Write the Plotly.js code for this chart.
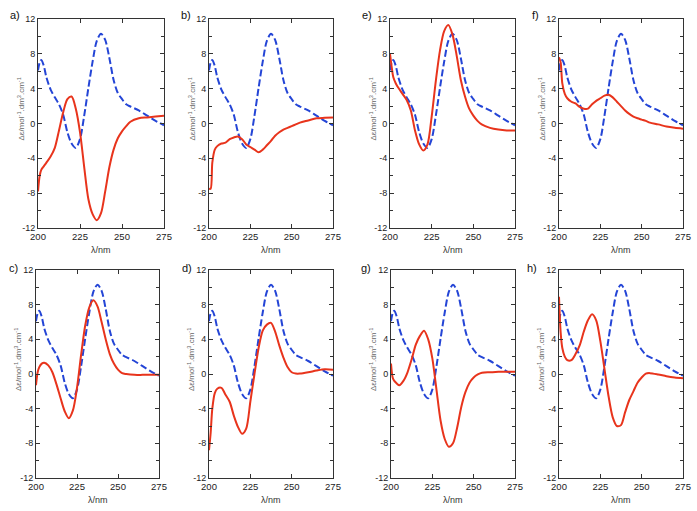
<!DOCTYPE html>
<html>
<head>
<meta charset="utf-8">
<script src="https://cdn.plot.ly/plotly-3.0.1.min.js"></script>
<style>html,body{margin:0;padding:0;background:#fff;}#chart{width:697px;height:511px;}</style>
</head>
<body>
<div id="chart"></div>
<script>
// Wavelength grid (nm)
const lam = [200,201,202,203.5,205,207.5,210,212.5,215,217.5,220,222.5,225,227.5,230,232.5,235,237.5,240,242.5,245,247.5,250,252.5,255,260,265,270,275];
// Reference (blue dashed) spectrum, identical in every panel
const refCurve = [6.1,7.0,7.3,6.6,5.3,3.9,3.0,2.2,1.0,-1.0,-2.3,-2.8,-1.8,0.9,4.1,7.1,9.5,10.3,9.6,7.5,5.0,3.5,2.8,2.2,1.95,1.5,0.9,0.3,-0.2];
// Sample (red) spectra
const redA = [-7.8,-6.0,-5.3,-4.9,-4.5,-3.8,-2.8,-0.8,1.3,2.8,3.1,1.7,-1.0,-5.0,-8.7,-10.4,-11.1,-10.3,-7.8,-5.0,-3.0,-1.7,-0.9,-0.3,0.2,0.6,0.7,0.8,0.9];
const redB = [-7.5,-7.5,-4.5,-3.0,-2.6,-2.3,-2.2,-1.8,-1.6,-1.5,-1.8,-2.4,-2.7,-3.0,-3.3,-3.0,-2.5,-2.0,-1.4,-1.0,-0.7,-0.5,-0.3,-0.1,0.1,0.35,0.6,0.65,0.7];
const redC = [-1.3,0.2,0.8,1.2,1.3,1.0,0.2,-1.2,-2.8,-4.3,-5.1,-4.2,-1.6,2.2,5.6,7.7,8.5,7.8,6.0,4.0,2.3,1.2,0.5,0.1,0.0,-0.1,-0.1,-0.1,-0.1];
const redD = [-8.8,-6.8,-4.0,-2.2,-1.7,-1.6,-2.4,-3.2,-4.8,-6.1,-6.9,-6.3,-3.2,0.0,3.0,5.0,5.7,5.9,4.9,3.3,1.9,0.8,0.2,0.05,0.05,0.2,0.4,0.55,0.5];
const redE = [8.0,6.5,5.3,4.6,4.1,3.4,2.7,1.5,-0.8,-2.4,-3.1,-2.4,0.8,4.9,8.4,10.6,11.3,10.2,7.8,5.0,3.1,1.7,0.9,0.3,-0.1,-0.5,-0.7,-0.8,-0.8];
const redF = [7.6,7.0,4.6,3.4,2.9,2.5,2.3,1.9,1.7,1.7,2.2,2.6,2.9,3.2,3.3,3.0,2.5,2.0,1.5,1.1,0.8,0.6,0.45,0.3,0.1,-0.1,-0.35,-0.5,-0.6];
const redG = [1.2,-0.4,-0.8,-1.1,-1.3,-0.8,0.2,1.7,3.4,4.4,5.0,4.0,1.8,-1.8,-5.4,-7.5,-8.4,-8.0,-6.2,-3.8,-2.1,-1.0,-0.4,-0.05,0.15,0.2,0.25,0.25,0.25];
const redH = [8.9,4.8,3.0,2.0,1.6,1.6,2.3,3.3,4.9,6.2,6.9,6.2,3.8,0.6,-2.6,-5.0,-6.0,-5.9,-4.4,-3.0,-2.0,-1.0,-0.4,0.05,0.1,-0.05,-0.25,-0.4,-0.5];
// Ticks and labels
const xTicks = [200,225,250,275];
const xTickText = ['200','225','250','275'];
const yTicks = [-12,-8,-4,0,4,8,12];
const yTickText = ['-12','-8','-4','0','4','8','12'];
const panelLabels = ['a)','b)','e)','f)','c)','d)','g)','h)'];
const redSeries = [redA,redB,redE,redF,redC,redD,redG,redH];
const xTitle = 'λ/nm';
const yTitle = 'Δε/mol<sup>-1</sup>.dm<sup>3</sup>.cm<sup>-1</sup>';

const W = 697, H = 511;
// plot boxes in pixels: [left, right, top, bottom]
const boxes = [
  [38,164,19,228],[209,333,19,228],[390,515,19,228],[559,683,19,228],
  [36,159,270,478],[209,333,270,478],[391,515,270,478],[559,683,270,478]
];
const labelPos = [[15,15],[186,15],[367,15],[535,15],[14,268],[187,268],[366,268],[532,268]];

const traces = [];
const layout = {
  width: W, height: H, autosize: false,
  margin: {l:0,r:0,t:0,b:0},
  paper_bgcolor: '#fff', plot_bgcolor: '#fff',
  showlegend: false,
  font: {family: 'Liberation Sans, Arial, sans-serif', size: 10, color: '#222'},
  annotations: []
};
const fx = p => p / W;
const fy = p => 1 - p / H;

boxes.forEach((b, i) => {
  const n = i + 1;
  const xa = 'x' + (n === 1 ? '' : n), ya = 'y' + (n === 1 ? '' : n);
  const xk = 'xaxis' + (n === 1 ? '' : n), yk = 'yaxis' + (n === 1 ? '' : n);
  traces.push({x: lam, y: refCurve, xaxis: xa, yaxis: ya, type: 'scatter', mode: 'lines',
    line: {color: '#2445d6', width: 2, dash: '7px,3px', shape: 'spline', smoothing: 0.8}, hoverinfo: 'skip'});
  traces.push({x: lam, y: redSeries[i], xaxis: xa, yaxis: ya, type: 'scatter', mode: 'lines',
    line: {color: '#e8341c', width: 2, shape: 'spline', smoothing: 0.8}, hoverinfo: 'skip'});
  layout[xk] = {
    domain: [fx(b[0]), fx(b[1])], anchor: ya, range: [200, 275],
    tickvals: xTicks, ticktext: xTickText, ticks: 'inside', ticklen: 4, tickcolor: '#333',
    showline: true, linecolor: '#333', linewidth: 1, mirror: 'ticks',
    showgrid: false, zeroline: false, tickfont: {size: 9.5, color: '#222'}
  };
  layout[yk] = {
    domain: [fy(b[3]), fy(b[2])], anchor: xa, range: [-12, 12],
    tickvals: yTicks, ticktext: yTickText, ticks: 'inside', ticklen: 4, tickcolor: '#333',
    minor: {dtick: 2, tick0: 0, ticks: 'inside', ticklen: 3, tickcolor: '#333', showgrid: false},
    showline: true, linecolor: '#333', linewidth: 1, mirror: 'ticks',
    showgrid: false, zeroline: false, tickfont: {size: 9, color: '#222'}
  };
  // x title
  layout.annotations.push({xref: 'paper', yref: 'paper', x: fx((b[0] + b[1]) / 2), y: fy(b[3] + 22),
    text: xTitle, showarrow: false, font: {size: 9, color: '#333'}, xanchor: 'center', yanchor: 'middle'});
  // y title
  layout.annotations.push({xref: 'paper', yref: 'paper', x: fx(b[0] - 18), y: fy((b[2] + b[3]) / 2 - 14),
    text: yTitle, textangle: -90, showarrow: false, font: {size: 8, color: '#666'}, xanchor: 'center', yanchor: 'middle'});
  // panel label
  layout.annotations.push({xref: 'paper', yref: 'paper', x: fx(labelPos[i][0]), y: fy(labelPos[i][1]),
    text: panelLabels[i], showarrow: false, font: {size: 11, color: '#111'}, xanchor: 'center', yanchor: 'middle'});
});

Plotly.newPlot('chart', traces, layout, {staticPlot: true, displayModeBar: false});
</script>
</body>
</html>
